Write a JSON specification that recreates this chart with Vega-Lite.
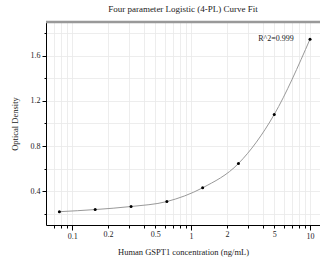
{
  "$schema": "https://vega.github.io/schema/vega-lite/v6.json",
  "width": 274,
  "height": 203,
  "autosize": "none",
  "padding": {"left": 46, "top": 22, "right": 0, "bottom": 37},
  "background": "white",
  "title": {"text": "Four parameter Logistic (4-PL) Curve Fit", "font": "Liberation Serif", "fontSize": 9, "fontWeight": "normal", "color": "#222", "offset": 7},
  "config": {
    "view": {"stroke": null},
    "axis": {"labelFont": "Liberation Serif", "titleFont": "Liberation Serif", "labelFontSize": 8, "titleFontSize": 8.5, "titleFontWeight": "normal", "labelColor": "#222", "titleColor": "#222", "domainColor": "#000", "tickColor": "#000", "gridColor": "#e8e8e8", "gridWidth": 0.8}
  },
  "data": {"values": [
    {"conc": 0.078, "od": 0.218},
    {"conc": 0.156, "od": 0.237},
    {"conc": 0.3125, "od": 0.264},
    {"conc": 0.625, "od": 0.308},
    {"conc": 1.25, "od": 0.43},
    {"conc": 2.5, "od": 0.645},
    {"conc": 5, "od": 1.08},
    {"conc": 10, "od": 1.748}
  ]},
  "encoding": {
    "x": {"field": "conc", "type": "quantitative",
      "scale": {"type": "log", "domain": [0.0602, 12.13], "nice": false},
      "axis": {"title": "Human GSPT1 concentration (ng/mL)", "titlePadding": 7,
        "values": [0.07,0.08,0.09,0.1,0.2,0.3,0.4,0.5,0.6,0.7,0.8,0.9,1,2,3,4,5,6,7,8,9,10],
        "format": "~g",
        "labelExpr": "(datum.value == 0.1 || datum.value == 0.2 || datum.value == 0.5 || datum.value == 1 || datum.value == 2 || datum.value == 5 || datum.value == 10) ? datum.label : ''",
        "tickSize": {"condition": {"test": "datum.value == 0.1 || datum.value == 1 || datum.value == 10", "value": 5}, "value": 3},
        "labelPadding": 2,
        "labelFlush": false, "labelOverlap": false}},
    "y": {"field": "od", "type": "quantitative",
      "scale": {"domain": [0.1, 1.9], "nice": false, "zero": false},
      "axis": {"title": "Optical Density", "titlePadding": 11,
        "values": [0.2,0.4,0.6,0.8,1.0,1.2,1.4,1.6,1.8],
        "format": ".1f",
        "labelExpr": "(datum.value == 0.4 || datum.value == 0.8 || datum.value == 1.2 || datum.value == 1.6) ? datum.label : ''",
        "tickSize": {"condition": {"test": "datum.value == 0.4 || datum.value == 0.8 || datum.value == 1.2 || datum.value == 1.6", "value": 4}, "value": 2},
        "labelPadding": 2}}
  },
  "layer": [
    {"mark": {"type": "line", "interpolate": "monotone", "color": "#999", "strokeWidth": 1}},
    {"mark": {"type": "point", "filled": true, "color": "#000", "size": 9, "opacity": 1}},
    {"data": {"values": [{"conc": 5.18, "od": 1.748, "label": "R^2=0.999"}]},
     "mark": {"type": "text", "font": "Liberation Serif", "fontSize": 8, "color": "#222", "align": "center", "baseline": "middle"},
     "encoding": {"text": {"field": "label"}}},
    {"data": {"values": [{"od": 1.9}]},
     "mark": {"type": "rule", "color": "#999", "strokeWidth": 2.5},
     "encoding": {"y": {"field": "od", "type": "quantitative"}, "x": null}}
  ]
}
